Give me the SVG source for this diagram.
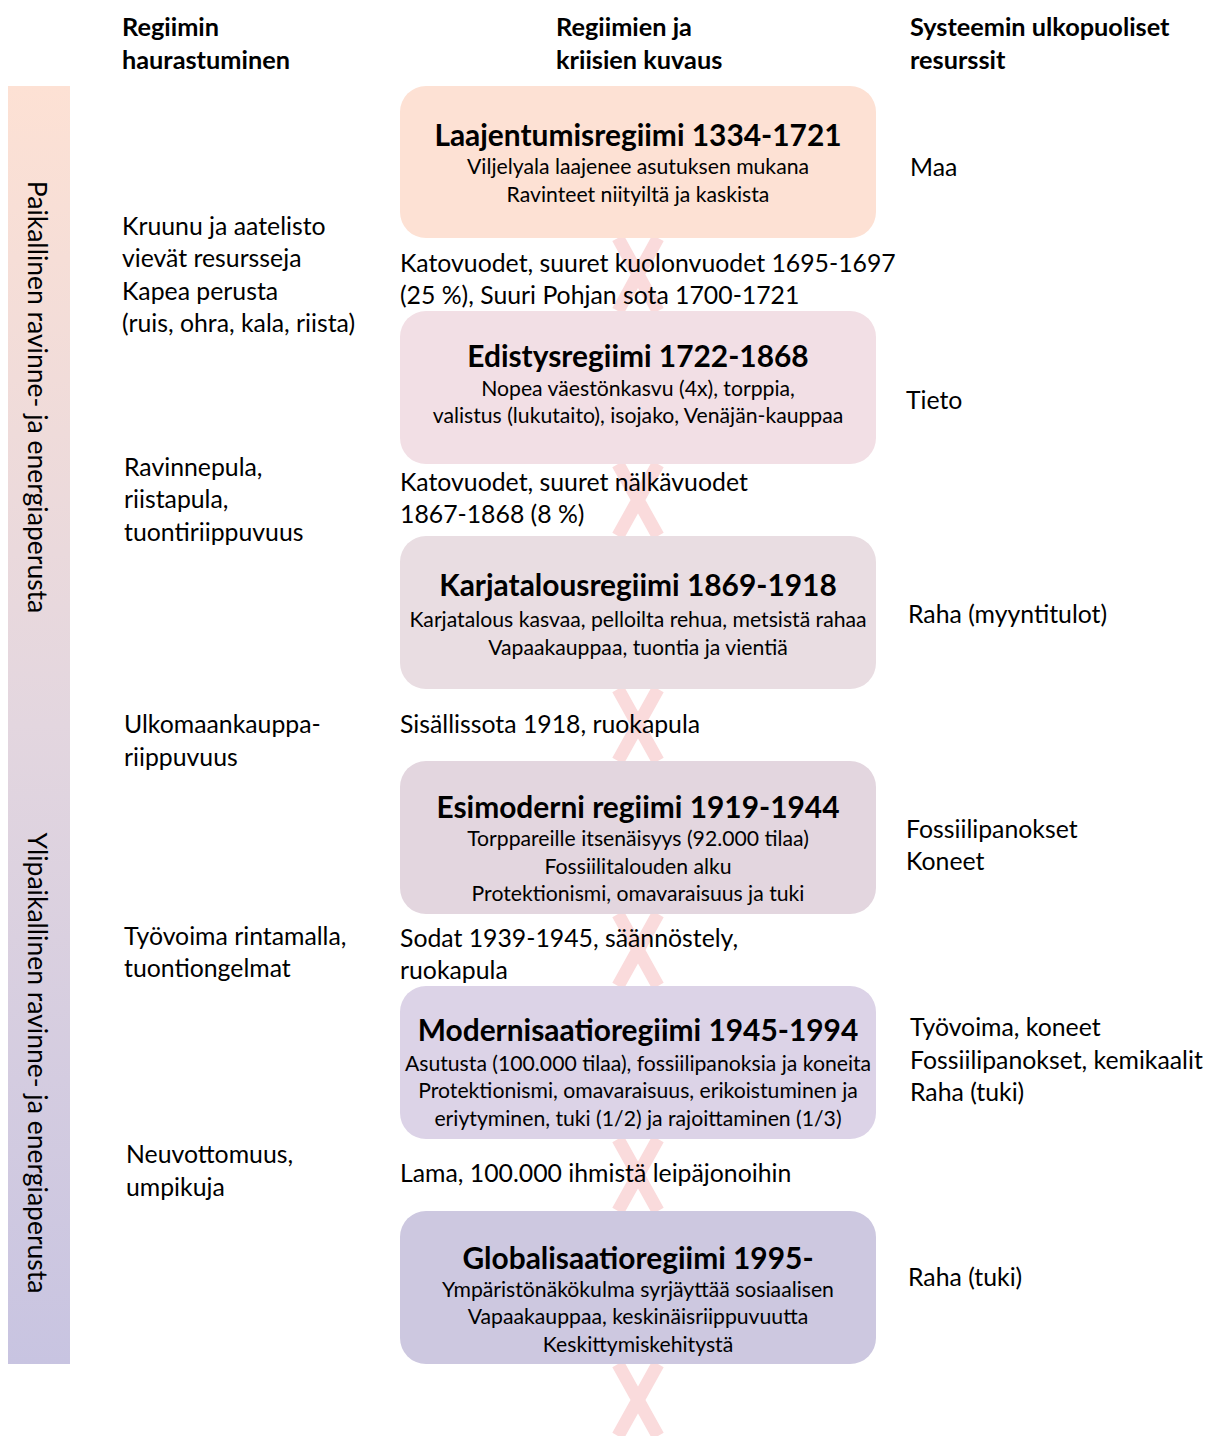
<svg xmlns="http://www.w3.org/2000/svg" width="1213" height="1436" viewBox="0 0 1213 1436">
<defs>
<linearGradient id="barGrad" x1="0" y1="0" x2="0" y2="1">
<stop offset="0" stop-color="#fde1d4"/>
<stop offset="0.5" stop-color="#e3d6df"/>
<stop offset="1" stop-color="#c8c4e1"/>
</linearGradient>
<style>
text{font-family:Lato,"Open Sans","Liberation Sans",sans-serif;fill:#000;dominant-baseline:central}
.hdr{font-size:25.3px;font-weight:bold}
.body{font-size:24.8px}
.ttl{font-size:29.9px;font-weight:bold;text-anchor:middle}
.sub{font-size:21.2px;text-anchor:middle}
.bar{font-size:26.5px;text-anchor:middle}
.box{stroke:none}
.x{stroke:#fadbdc;stroke-width:13;fill:none}
</style>
</defs>
<rect width="1213" height="1436" fill="#fff"/>

<g id="headers">
<text class="hdr" x="122" y="26">Regiimin</text>
<text class="hdr" x="122" y="59">haurastuminen</text>
<text class="hdr" x="556" y="26">Regiimien ja</text>
<text class="hdr" x="556" y="59">kriisien kuvaus</text>
<text class="hdr" x="910" y="26">Systeemin ulkopuoliset</text>
<text class="hdr" x="910" y="59">resurssit</text>
</g>

<g id="side-bar">
<rect x="8" y="86" width="62" height="1278" fill="url(#barGrad)"/>
<text class="bar" transform="translate(38,397) rotate(90)">Paikallinen ravinne- ja energiaperusta</text>
<text class="bar" transform="translate(38,1063) rotate(90)">Ylipaikallinen ravinne- ja energiaperusta</text>
</g>

<g id="connectors">
<path class="x" d="M618,238 L658,311 M658,238 L618,311"/>
<path class="x" d="M618,464 L658,536 M658,464 L618,536"/>
<path class="x" d="M618,689 L658,761 M658,689 L618,761"/>
<path class="x" d="M618,914 L658,986 M658,914 L618,986"/>
<path class="x" d="M618,1139 L658,1211 M658,1139 L618,1211"/>
<path class="x" d="M618,1364 L658,1436 M658,1364 L618,1436"/>
</g>

<g id="regime1">
<rect class="box" x="400" y="86" width="476" height="152" rx="26" fill="#fde1d4"/>
<text class="ttl" x="638" y="134">Laajentumisregiimi 1334-1721</text>
<text class="sub" x="638" y="166">Viljelyala laajenee asutuksen mukana</text>
<text class="sub" x="638" y="194">Ravinteet niityiltä ja kaskista</text>
</g>
<g id="regime2">
<rect class="box" x="400" y="311" width="476" height="153" rx="26" fill="#f2dfe5"/>
<text class="ttl" x="638" y="355">Edistysregiimi 1722-1868</text>
<text class="sub" x="638" y="388">Nopea väestönkasvu (4x), torppia,</text>
<text class="sub" x="638" y="415">valistus (lukutaito), isojako, Venäjän-kauppaa</text>
</g>
<g id="regime3">
<rect class="box" x="400" y="536" width="476" height="153" rx="26" fill="#e9dde2"/>
<text class="ttl" x="638" y="584">Karjatalousregiimi 1869-1918</text>
<text class="sub" x="638" y="619">Karjatalous kasvaa, pelloilta rehua, metsistä rahaa</text>
<text class="sub" x="638" y="647">Vapaakauppaa, tuontia ja vientiä</text>
</g>
<g id="regime4">
<rect class="box" x="400" y="761" width="476" height="153" rx="26" fill="#e3d6df"/>
<text class="ttl" x="638" y="806">Esimoderni regiimi 1919-1944</text>
<text class="sub" x="638" y="838">Torppareille itsenäisyys (92.000 tilaa)</text>
<text class="sub" x="638" y="866">Fossiilitalouden alku</text>
<text class="sub" x="638" y="893">Protektionismi, omavaraisuus ja tuki</text>
</g>
<g id="regime5">
<rect class="box" x="400" y="986" width="476" height="153" rx="26" fill="#dcd3e7"/>
<text class="ttl" x="638" y="1029">Modernisaatioregiimi 1945-1994</text>
<text class="sub" x="638" y="1063">Asutusta (100.000 tilaa), fossiilipanoksia ja koneita</text>
<text class="sub" x="638" y="1090">Protektionismi, omavaraisuus, erikoistuminen ja</text>
<text class="sub" x="638" y="1118">eriytyminen, tuki (1/2) ja rajoittaminen (1/3)</text>
</g>
<g id="regime6">
<rect class="box" x="400" y="1211" width="476" height="153" rx="26" fill="#cdc8e0"/>
<text class="ttl" x="638" y="1257">Globalisaatioregiimi 1995-</text>
<text class="sub" x="638" y="1289">Ympäristönäkökulma syrjäyttää sosiaalisen</text>
<text class="sub" x="638" y="1316">Vapaakauppaa, keskinäisriippuvuutta</text>
<text class="sub" x="638" y="1344">Keskittymiskehitystä</text>
</g>

<g id="crises">
<text class="body" x="400" y="262">Katovuodet, suuret kuolonvuodet 1695-1697</text>
<text class="body" x="400" y="294">(25 %), Suuri Pohjan sota 1700-1721</text>
<text class="body" x="400" y="481">Katovuodet, suuret nälkävuodet</text>
<text class="body" x="400" y="513">1867-1868 (8 %)</text>
<text class="body" x="400" y="723">Sisällissota 1918, ruokapula</text>
<text class="body" x="400" y="937">Sodat 1939-1945, säännöstely,</text>
<text class="body" x="400" y="969">ruokapula</text>
<text class="body" x="400" y="1172">Lama, 100.000 ihmistä leipäjonoihin</text>
</g>

<g id="fragility">
<text class="body" x="122" y="225">Kruunu ja aatelisto</text>
<text class="body" x="122" y="257">vievät resursseja</text>
<text class="body" x="122" y="290">Kapea perusta</text>
<text class="body" x="122" y="322">(ruis, ohra, kala, riista)</text>
<text class="body" x="124" y="466">Ravinnepula,</text>
<text class="body" x="124" y="498">riistapula,</text>
<text class="body" x="124" y="531">tuontiriippuvuus</text>
<text class="body" x="124" y="723">Ulkomaankauppa-</text>
<text class="body" x="124" y="756">riippuvuus</text>
<text class="body" x="124" y="935">Työvoima rintamalla,</text>
<text class="body" x="124" y="967">tuontiongelmat</text>
<text class="body" x="126" y="1153">Neuvottomuus,</text>
<text class="body" x="126" y="1186">umpikuja</text>
</g>

<g id="resources">
<text class="body" x="910" y="166">Maa</text>
<text class="body" x="906" y="399">Tieto</text>
<text class="body" x="908" y="613">Raha (myyntitulot)</text>
<text class="body" x="906" y="828">Fossiilipanokset</text>
<text class="body" x="906" y="860">Koneet</text>
<text class="body" x="910" y="1026">Työvoima, koneet</text>
<text class="body" x="910" y="1059">Fossiilipanokset, kemikaalit</text>
<text class="body" x="910" y="1091">Raha (tuki)</text>
<text class="body" x="908" y="1276">Raha (tuki)</text>
</g>
</svg>
